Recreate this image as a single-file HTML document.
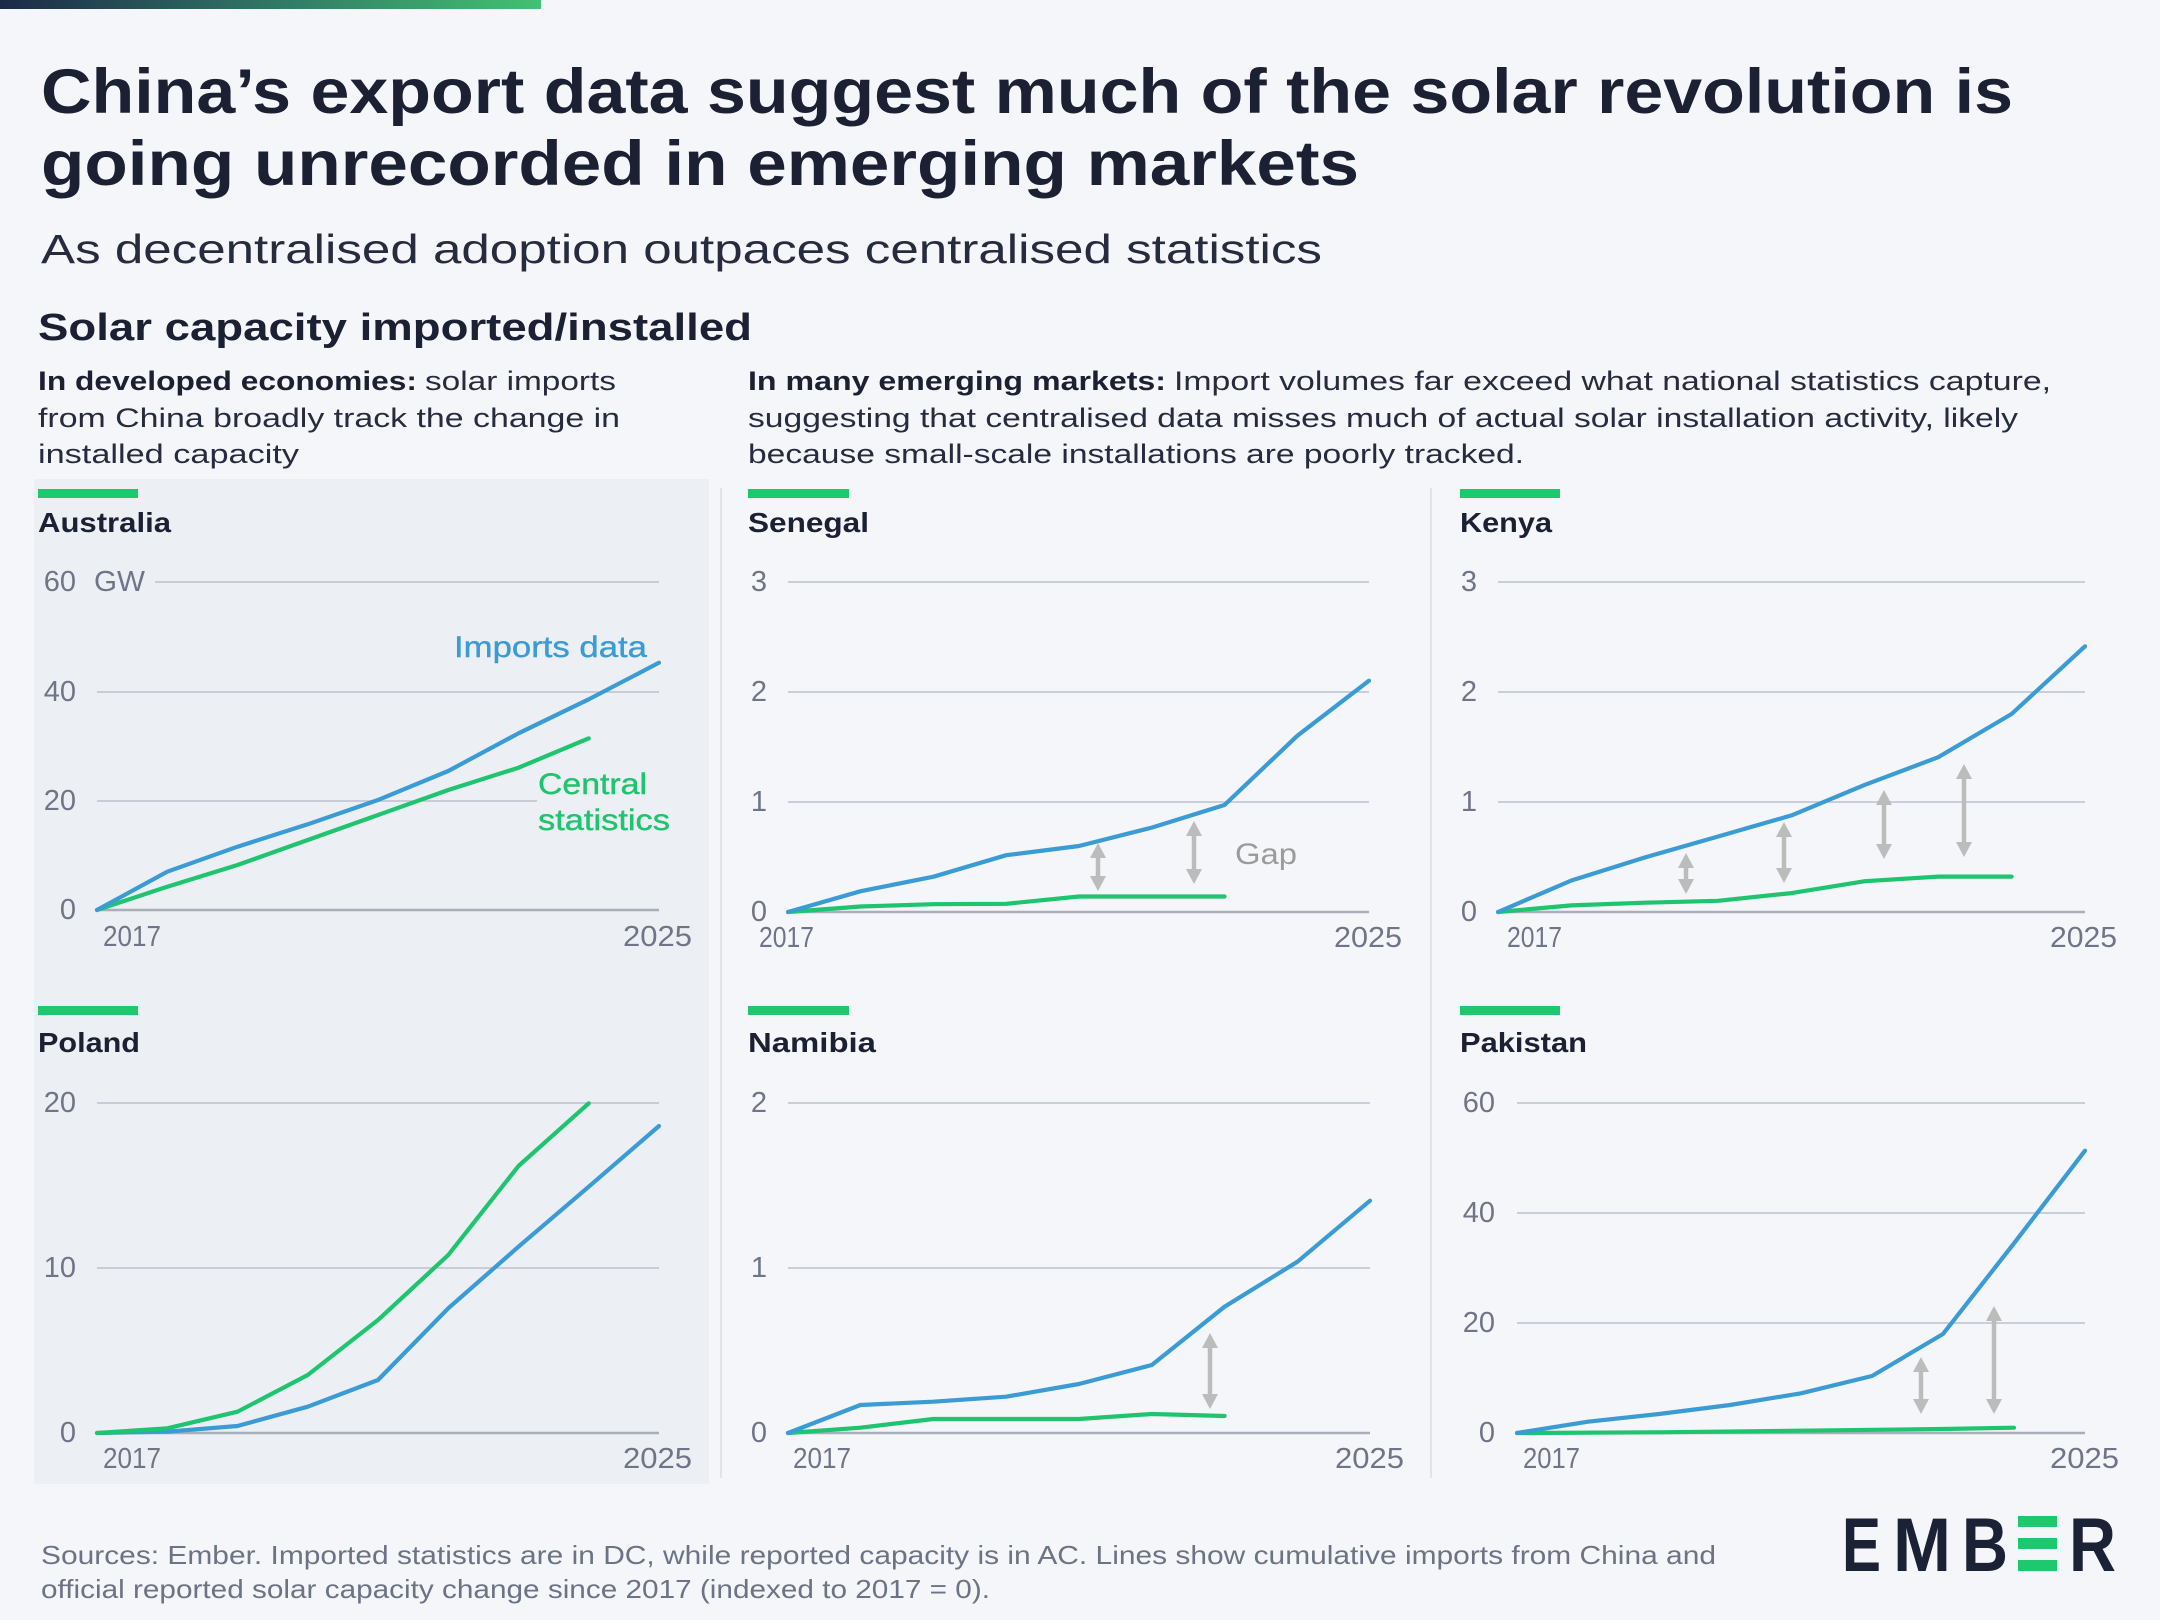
<!DOCTYPE html>
<html><head><meta charset="utf-8"><style>
html,body{margin:0;padding:0;background:#f4f6fa;}
svg{display:block;}
text{font-family:"Liberation Sans",Arial,sans-serif;}
.t{fill:#1b2033;font-weight:bold;}
.lt{fill:#262b3e;}
.ax{fill:#6f7586;font-size:29px;}
.cn{fill:#1b2033;font-weight:bold;font-size:28px;}
.g{stroke:#bcc1cc;stroke-width:1.6;fill:none;}
.z{stroke:#a9aebb;stroke-width:2.6;fill:none;}
.bl{stroke:#3a9bd5;stroke-width:4.2;fill:none;stroke-linejoin:round;stroke-linecap:round;}
.gr{stroke:#1ec46e;stroke-width:4.2;fill:none;stroke-linejoin:round;stroke-linecap:round;}
.bar{fill:#1ec86f;}
.ar{fill:#bcbcbc;}
.as{stroke:#bcbcbc;stroke-width:4.5;}
</style></head><body>
<svg width="2160" height="1620" viewBox="0 0 2160 1620" xmlns="http://www.w3.org/2000/svg">
<defs>
<linearGradient id="tb" x1="0" x2="1" y1="0" y2="0">
<stop offset="0" stop-color="#1c2947"/>
<stop offset="0.45" stop-color="#2f6f63"/>
<stop offset="1" stop-color="#43c172"/>
</linearGradient>
</defs>
<rect x="0" y="0" width="2160" height="1620" fill="#f4f6fa"/>
<rect x="0" y="0" width="541" height="9" fill="url(#tb)"/>

<!-- Titles -->
<text class="t" x="41" y="113" font-size="63" textLength="1972" lengthAdjust="spacingAndGlyphs">China’s export data suggest much of the solar revolution is</text>
<text class="t" x="41" y="185" font-size="63" textLength="1318" lengthAdjust="spacingAndGlyphs">going unrecorded in emerging markets</text>
<text class="lt" x="41" y="263" font-size="41" textLength="1281" lengthAdjust="spacingAndGlyphs">As decentralised adoption outpaces centralised statistics</text>
<text class="t" x="38" y="340" font-size="38" textLength="714" lengthAdjust="spacingAndGlyphs">Solar capacity imported/installed</text>

<!-- Left description -->
<text font-size="27" y="390"><tspan class="t" x="38" textLength="379" lengthAdjust="spacingAndGlyphs">In developed economies:</tspan><tspan class="lt" x="425" textLength="191" lengthAdjust="spacingAndGlyphs">solar imports</tspan></text>
<text class="lt" font-size="27" x="38" y="427" textLength="582" lengthAdjust="spacingAndGlyphs">from China broadly track the change in</text>
<text class="lt" font-size="27" x="38" y="463" textLength="261" lengthAdjust="spacingAndGlyphs">installed capacity</text>

<!-- Right description -->
<text font-size="27" y="390"><tspan class="t" x="748" textLength="418" lengthAdjust="spacingAndGlyphs">In many emerging markets:</tspan><tspan class="lt" x="1174" textLength="877" lengthAdjust="spacingAndGlyphs">Import volumes far exceed what national statistics capture,</tspan></text>
<text class="lt" font-size="27" x="748" y="427" textLength="1270" lengthAdjust="spacingAndGlyphs">suggesting that centralised data misses much of actual solar installation activity, likely</text>
<text class="lt" font-size="27" x="748" y="463" textLength="776" lengthAdjust="spacingAndGlyphs">because small-scale installations are poorly tracked.</text>

<!-- Panels -->
<rect x="34" y="479" width="675" height="1005" fill="#eceff4"/>
<line x1="721" y1="488" x2="721" y2="1478" stroke="#dfe3ea" stroke-width="2"/>
<line x1="1431" y1="488" x2="1431" y2="1478" stroke="#dfe3ea" stroke-width="2"/>

<!-- ===== Australia ===== -->
<rect class="bar" x="38" y="489" width="100" height="9"/>
<text class="cn" x="38" y="532" textLength="133" lengthAdjust="spacingAndGlyphs">Australia</text>
<line class="g" x1="155" y1="582" x2="659" y2="582"/>
<line class="g" x1="97" y1="692" x2="659" y2="692"/>
<line class="g" x1="97" y1="801" x2="537" y2="801"/>
<line class="z" x1="97" y1="910" x2="659" y2="910"/>
<text class="ax" x="76" y="591" text-anchor="end">60</text>
<text class="ax" x="94" y="591" textLength="51" lengthAdjust="spacingAndGlyphs">GW</text>
<text class="ax" x="76" y="701" text-anchor="end">40</text>
<text class="ax" x="76" y="810" text-anchor="end">20</text>
<text class="ax" x="76" y="919" text-anchor="end">0</text>
<text class="ax" x="103" y="946" textLength="58" lengthAdjust="spacingAndGlyphs">2017</text>
<text class="ax" x="623" y="946" textLength="69" lengthAdjust="spacingAndGlyphs">2025</text>
<polyline class="gr" points="97,910 167.25,886.7 237.5,865 307.75,840 378,815 448.25,790 518.5,767.7 588.75,738.3"/>
<polyline class="bl" points="97,910 167.25,871.7 237.5,846.7 307.75,824.3 378,800 448.25,771 518.5,733.3 588.75,699.3 659,662.7"/>
<text x="454" y="657" font-size="30" fill="#3a9bd5" stroke="#3a9bd5" stroke-width="0.4" textLength="193" lengthAdjust="spacingAndGlyphs">Imports data</text>
<text x="538" y="794" font-size="30" fill="#1ec46e" stroke="#1ec46e" stroke-width="0.4" textLength="109" lengthAdjust="spacingAndGlyphs">Central</text>
<text x="538" y="830" font-size="30" fill="#1ec46e" stroke="#1ec46e" stroke-width="0.4" textLength="132" lengthAdjust="spacingAndGlyphs">statistics</text>

<!-- ===== Senegal ===== -->
<rect class="bar" x="748" y="489" width="101" height="9"/>
<text class="cn" x="748" y="532" textLength="121" lengthAdjust="spacingAndGlyphs">Senegal</text>
<line class="g" x1="788" y1="582" x2="1369" y2="582"/>
<line class="g" x1="788" y1="692" x2="1369" y2="692"/>
<line class="g" x1="788" y1="802" x2="1369" y2="802"/>
<line class="z" x1="788" y1="912" x2="1369" y2="912"/>
<text class="ax" x="767" y="591" text-anchor="end">3</text>
<text class="ax" x="767" y="701" text-anchor="end">2</text>
<text class="ax" x="767" y="811" text-anchor="end">1</text>
<text class="ax" x="767" y="921" text-anchor="end">0</text>
<text class="ax" x="759" y="947" textLength="55" lengthAdjust="spacingAndGlyphs">2017</text>
<text class="ax" x="1334" y="947" textLength="68" lengthAdjust="spacingAndGlyphs">2025</text>
<polyline class="gr" points="788,912 860.75,906.5 933.5,904.2 1006.25,903.8 1079,896.5 1151.75,896.5 1224.5,896.5"/>
<polyline class="bl" points="788,912 860.75,891.2 933.5,876.7 1006.25,855.2 1079,846 1151.75,827.6 1224.5,805 1297.25,735.8 1369,680.7"/>
<line class="as" x1="1098" y1="855" x2="1098" y2="879"/>
<polygon class="ar" points="1098,843 1090,858 1106,858"/>
<polygon class="ar" points="1098,891 1090,876 1106,876"/>
<line class="as" x1="1194" y1="833" x2="1194" y2="872"/>
<polygon class="ar" points="1194,821 1186,836 1202,836"/>
<polygon class="ar" points="1194,884 1186,869 1202,869"/>
<text x="1235" y="864" font-size="30" fill="#9b9b9b" textLength="62" lengthAdjust="spacingAndGlyphs">Gap</text>

<!-- ===== Kenya ===== -->
<rect class="bar" x="1460" y="489" width="100" height="9"/>
<text class="cn" x="1460" y="532" textLength="92" lengthAdjust="spacingAndGlyphs">Kenya</text>
<line class="g" x1="1498" y1="582" x2="2085" y2="582"/>
<line class="g" x1="1498" y1="692" x2="2085" y2="692"/>
<line class="g" x1="1498" y1="802" x2="2085" y2="802"/>
<line class="z" x1="1498" y1="912" x2="2085" y2="912"/>
<text class="ax" x="1477" y="591" text-anchor="end">3</text>
<text class="ax" x="1477" y="701" text-anchor="end">2</text>
<text class="ax" x="1477" y="811" text-anchor="end">1</text>
<text class="ax" x="1477" y="921" text-anchor="end">0</text>
<text class="ax" x="1507" y="947" textLength="55" lengthAdjust="spacingAndGlyphs">2017</text>
<text class="ax" x="2050" y="947" textLength="67" lengthAdjust="spacingAndGlyphs">2025</text>
<polyline class="gr" points="1498,912 1571.4,905.4 1644.75,902.7 1718.1,900.8 1791.5,893.1 1864.9,881.2 1938.25,876.6 2011.6,876.6"/>
<polyline class="bl" points="1498,912 1571.4,880.5 1644.75,857.5 1718.1,836.5 1791.5,815.4 1864.9,784.8 1938.25,757.2 2011.6,714 2085,646.3"/>
<line class="as" x1="1686" y1="865" x2="1686" y2="882"/>
<polygon class="ar" points="1686,853 1678,868 1694,868"/>
<polygon class="ar" points="1686,894 1678,879 1694,879"/>
<line class="as" x1="1784" y1="834" x2="1784" y2="871"/>
<polygon class="ar" points="1784,822 1776,837 1792,837"/>
<polygon class="ar" points="1784,883 1776,868 1792,868"/>
<line class="as" x1="1884" y1="802" x2="1884" y2="847"/>
<polygon class="ar" points="1884,790 1876,805 1892,805"/>
<polygon class="ar" points="1884,859 1876,844 1892,844"/>
<line class="as" x1="1964" y1="776" x2="1964" y2="845"/>
<polygon class="ar" points="1964,764 1956,779 1972,779"/>
<polygon class="ar" points="1964,857 1956,842 1972,842"/>

<!-- ===== Poland ===== -->
<rect class="bar" x="38" y="1006" width="100" height="9"/>
<text class="cn" x="38" y="1052" textLength="102" lengthAdjust="spacingAndGlyphs">Poland</text>
<line class="g" x1="97" y1="1103" x2="659" y2="1103"/>
<line class="g" x1="97" y1="1268" x2="659" y2="1268"/>
<line class="z" x1="97" y1="1433" x2="659" y2="1433"/>
<text class="ax" x="76" y="1112" text-anchor="end">20</text>
<text class="ax" x="76" y="1277" text-anchor="end">10</text>
<text class="ax" x="76" y="1442" text-anchor="end">0</text>
<text class="ax" x="103" y="1468" textLength="58" lengthAdjust="spacingAndGlyphs">2017</text>
<text class="ax" x="623" y="1468" textLength="69" lengthAdjust="spacingAndGlyphs">2025</text>
<polyline class="bl" points="97,1433 167.25,1431.7 237.5,1426 307.75,1406.7 378,1380 448.25,1308.3 518.5,1246.7 588.75,1186.7 659,1126"/>
<polyline class="gr" points="97,1433 167.25,1428.3 237.5,1411.7 307.75,1375 378,1320 448.25,1255 518.5,1166 588.75,1103.3"/>

<!-- ===== Namibia ===== -->
<rect class="bar" x="748" y="1006" width="101" height="9"/>
<text class="cn" x="748" y="1052" textLength="128" lengthAdjust="spacingAndGlyphs">Namibia</text>
<line class="g" x1="788" y1="1103" x2="1370" y2="1103"/>
<line class="g" x1="788" y1="1268" x2="1370" y2="1268"/>
<line class="z" x1="788" y1="1433" x2="1370" y2="1433"/>
<text class="ax" x="767" y="1112" text-anchor="end">2</text>
<text class="ax" x="767" y="1277" text-anchor="end">1</text>
<text class="ax" x="767" y="1442" text-anchor="end">0</text>
<text class="ax" x="793" y="1468" textLength="58" lengthAdjust="spacingAndGlyphs">2017</text>
<text class="ax" x="1335" y="1468" textLength="69" lengthAdjust="spacingAndGlyphs">2025</text>
<polyline class="gr" points="788,1433 860.4,1427.7 933.2,1419 1006.1,1419 1078.9,1419 1151.8,1414 1224.6,1416"/>
<polyline class="bl" points="788,1433 860.4,1405 933.2,1401.7 1006.1,1396.7 1078.9,1384 1151.8,1365 1224.6,1306.7 1297.5,1261.7 1370,1200.7"/>
<line class="as" x1="1210" y1="1345" x2="1210" y2="1397"/>
<polygon class="ar" points="1210,1333 1202,1348 1218,1348"/>
<polygon class="ar" points="1210,1409 1202,1394 1218,1394"/>

<!-- ===== Pakistan ===== -->
<rect class="bar" x="1460" y="1006" width="100" height="9"/>
<text class="cn" x="1460" y="1052" textLength="127" lengthAdjust="spacingAndGlyphs">Pakistan</text>
<line class="g" x1="1517" y1="1103" x2="2085" y2="1103"/>
<line class="g" x1="1517" y1="1213" x2="2085" y2="1213"/>
<line class="g" x1="1517" y1="1323" x2="2085" y2="1323"/>
<line class="z" x1="1517" y1="1433" x2="2085" y2="1433"/>
<text class="ax" x="1495" y="1112" text-anchor="end">60</text>
<text class="ax" x="1495" y="1222" text-anchor="end">40</text>
<text class="ax" x="1495" y="1332" text-anchor="end">20</text>
<text class="ax" x="1495" y="1442" text-anchor="end">0</text>
<text class="ax" x="1523" y="1468" textLength="57" lengthAdjust="spacingAndGlyphs">2017</text>
<text class="ax" x="2050" y="1468" textLength="69" lengthAdjust="spacingAndGlyphs">2025</text>
<polyline class="gr" points="1517,1433 1659,1432.3 1801,1430.7 1943,1429 2014,1427.7"/>
<polyline class="bl" points="1517,1433 1588,1421.7 1659,1414 1730,1405 1801,1393.3 1872,1376 1943,1334 2014,1243.3 2085,1150.7"/>
<line class="as" x1="1921" y1="1369" x2="1921" y2="1402"/>
<polygon class="ar" points="1921,1357 1913,1372 1929,1372"/>
<polygon class="ar" points="1921,1414 1913,1399 1929,1399"/>
<line class="as" x1="1994" y1="1318" x2="1994" y2="1402"/>
<polygon class="ar" points="1994,1306 1986,1321 2002,1321"/>
<polygon class="ar" points="1994,1414 1986,1399 2002,1399"/>

<!-- Footer -->
<text x="41" y="1564" font-size="26" fill="#6b7385" textLength="1675" lengthAdjust="spacingAndGlyphs">Sources: Ember. Imported statistics are in DC, while reported capacity is in AC. Lines show cumulative imports from China and</text>
<text x="41" y="1598" font-size="26" fill="#6b7385" textLength="949" lengthAdjust="spacingAndGlyphs">official reported solar capacity change since 2017 (indexed to 2017 = 0).</text>

<!-- Logo -->
<g fill="#1b2235" font-weight="bold" font-size="76">
<text x="1842" y="1571" textLength="39" lengthAdjust="spacingAndGlyphs">E</text>
<text x="1893" y="1571" textLength="58" lengthAdjust="spacingAndGlyphs">M</text>
<text x="1962" y="1571" textLength="46" lengthAdjust="spacingAndGlyphs">B</text>
<text x="2069" y="1571" textLength="47" lengthAdjust="spacingAndGlyphs">R</text>
</g>
<rect x="2018" y="1516" width="39" height="11" fill="#1ec86f"/>
<rect x="2018" y="1538" width="39" height="11" fill="#1ec86f"/>
<rect x="2018" y="1560" width="39" height="11" fill="#1ec86f"/>
</svg>
</body></html>
